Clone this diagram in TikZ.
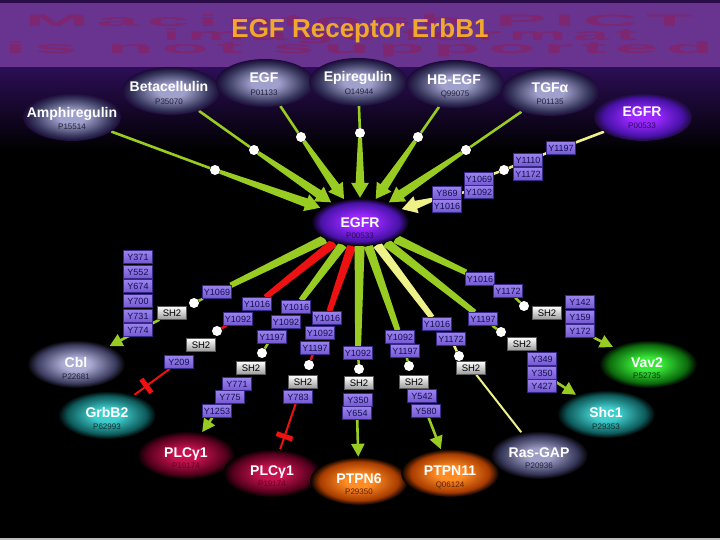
\documentclass[tikz,border=0pt]{standalone}
\usepackage{fontspec}
\setmainfont{Liberation Sans}
\usetikzlibrary{arrows.meta,shapes.geometric,calc}
\pgfdeclarelayer{back}\pgfdeclarelayer{mid}
\pgfsetlayers{back,mid,main}
\definecolor{cgreen}{HTML}{99CC22}
\definecolor{cred}{HTML}{EE1111}
\definecolor{cyel}{HTML}{EEF088}
\definecolor{bandcol}{HTML}{683490}
\definecolor{bandtop}{HTML}{2A0C48}
\definecolor{wmcol}{HTML}{7E2670}
\definecolor{titleor}{HTML}{F2A82C}
\definecolor{topbg}{HTML}{2C0E56}
\definecolor{ligbg}{HTML}{1C0A38}
\definecolor{botline}{HTML}{BDBDBD}
\definecolor{sitetext}{HTML}{12124E}
\definecolor{sitetop}{HTML}{9C84EE}
\definecolor{sitebot}{HTML}{7458D2}
\definecolor{siteedge}{HTML}{3A2888}
\definecolor{shbot}{HTML}{9A9A9A}
\definecolor{shedge}{HTML}{5A5A5A}
% glow colours
\definecolor{ligc}{HTML}{A0A0CC}\definecolor{lige}{HTML}{34345A}
\definecolor{egfc}{HTML}{9A28FF}\definecolor{egfe}{HTML}{4812A8}
\definecolor{cblc}{HTML}{ACACD4}\definecolor{cble}{HTML}{3C3C60}
\definecolor{tealc}{HTML}{40CCCC}\definecolor{teale}{HTML}{0E5A5A}
\definecolor{vavc}{HTML}{38E838}\definecolor{vave}{HTML}{0C6A0C}
\definecolor{plcc}{HTML}{C4124E}\definecolor{plce}{HTML}{56001E}
\definecolor{ptpc}{HTML}{FF8C24}\definecolor{ptpe}{HTML}{A83C00}
\definecolor{rasc}{HTML}{9C9CC4}\definecolor{rase}{HTML}{343456}
\definecolor{idgray}{HTML}{22223A}
\definecolor{idpur}{HTML}{2A0E5E}
\definecolor{idteal}{HTML}{0A3434}
\definecolor{idgreen}{HTML}{0A360A}
\definecolor{idred}{HTML}{6A0022}
\definecolor{idorange}{HTML}{602000}
\colorlet{gc}{white}\colorlet{ge}{gray}\colorlet{gb}{black}
\pgfdeclareradialshading[gc,ge,gb]{glow}{\pgfpointorigin}{color(0bp)=(gc); color(7bp)=(gc); color(20bp)=(ge); color(25bp)=(gb); color(50bp)=(gb)}
\tikzset{
  glowy/.style n args={3}{shape=ellipse, minimum width=98pt, minimum height=48pt, inner sep=0pt,
     /utils/exec={\colorlet{gc}{#1}\colorlet{ge}{#2}\colorlet{gb}{#3}}, shade, shading=glow},
  ptname/.style={font=\bfseries\fontsize{14}{14}\selectfont, text=white, anchor=base, inner sep=0pt},
  ptid/.style={font=\fontsize{8}{8}\selectfont, anchor=base, inner sep=0pt},
  site/.style={rectangle, minimum width=29pt, minimum height=13pt, inner sep=0pt,
     top color=sitetop, bottom color=sitebot, draw=siteedge, line width=.4pt,
     font=\fontsize{9}{9}\selectfont, text=sitetext},
  sh/.style={rectangle, minimum width=29pt, minimum height=13pt, inner sep=0pt,
     top color=white, bottom color=shbot, draw=shedge, line width=.4pt,
     font=\fontsize{9.5}{9.5}\selectfont, text=black},
  wdot/.style={circle, fill=white, minimum size=10pt, inner sep=0pt},
  thinl/.style={line width=2.6pt},
  headarr/.style={line width=3pt, -{Triangle[length=15pt,width=17pt]}},
  tick/.style={line width=2.5pt},
  tarr/.style={line width=2.6pt, -{Triangle[length=13pt,width=13pt]}},
  redbar/.style={rectangle, fill=cred, minimum width=5pt, minimum height=17pt, inner sep=0pt, sloped},
  wm/.style={font=\bfseries\addfontfeatures{LetterSpace=10}, text=wmcol, inner sep=0pt, anchor=base}
}
% tapered connector between two named nodes: colour, from, to, half width at start, half width at end
\newcommand\taperlink[5]{%
  \path (#2) -- (#3) coordinate[pos=0] (tp-s) coordinate[pos=1] (tp-e);
  \fill[#1] ($(tp-s)!#4!90:(tp-e)$) -- ($(tp-s)!#4!-90:(tp-e)$) -- ($(tp-e)!#5!90:(tp-s)$) -- ($(tp-e)!#5!-90:(tp-s)$) -- cycle;}
% tapered arrow: colour, from, to
\newcommand\taperarrow[3]{%
  \path (#2) -- (#3) coordinate[pos=0] (ta-s) coordinate[pos=1] (ta-e);
  \coordinate (ta-m) at ($(ta-e)!12pt!(ta-s)$);
  \fill[#1] ($(ta-s)!2pt!90:(ta-m)$) -- ($(ta-s)!2pt!-90:(ta-m)$) -- ($(ta-m)!4.5pt!90:(ta-s)$) -- ($(ta-m)!4.5pt!-90:(ta-s)$) -- cycle;
  \draw[#1, headarr] (#2) -- (#3);}
\begin{document}
\begin{tikzpicture}[x=1pt,y=-1pt]
\useasboundingbox (0,0) rectangle (720,540);
\begin{pgfonlayer}{back}
\fill[black] (0,0) rectangle (720,540);
\shade[top color=topbg, bottom color=black] (0,67) rectangle (720,150);
\fill[bandcol] (0,3) rectangle (720,67);
\fill[bandtop] (0,0) rectangle (720,3);
\fill[botline] (0,537.5) rectangle (720,540);
\end{pgfonlayer}
% watermark and title
\node[wm] (wm1) at (359,27) {\resizebox{668pt}{12pt}{Macintosh PICT}};
\node[wm] (wm2) at (400,41) {\resizebox{475pt}{12pt}{image format}};
\node[wm] (wm3) at (359,54) {\resizebox{708pt}{12pt}{is not supported}};
\node[font=\bfseries\fontsize{26}{26}\selectfont, text=titleor, anchor=base, inner sep=0pt] (title) at (360,37.5) {EGF Receptor ErbB1};

% ---------- proteins ----------
\node[glowy={ligc}{lige}{ligbg}] (amph) at (72,117) {};
\node[ptname] (amph-n) at (72,118) {Amphiregulin};
\node[ptid,text=idgray] (amph-i) at (72,130) {P15514};
\node[glowy={ligc}{lige}{ligbg}] (beta) at (171,91) {};
\node[ptname] (beta-n) at (169,92) {Betacellulin};
\node[ptid,text=idgray] (beta-i) at (169,105) {P35070};
\node[glowy={ligc}{lige}{ligbg}] (egf) at (265,83) {};
\node[ptname] (egf-n) at (264,83) {EGF};
\node[ptid,text=idgray] (egf-i) at (264,96) {P01133};
\node[glowy={ligc}{lige}{ligbg}] (epi) at (358,82) {};
\node[ptname] (epi-n) at (358,82) {Epiregulin};
\node[ptid,text=idgray] (epi-i) at (359,95) {O14944};
\node[glowy={ligc}{lige}{ligbg}] (hbegf) at (455,84) {};
\node[ptname] (hbegf-n) at (454,85) {HB-EGF};
\node[ptid,text=idgray] (hbegf-i) at (455,97) {Q99075};
\node[glowy={ligc}{lige}{ligbg}] (tgfa) at (550,92) {};
\node[ptname] (tgfa-n) at (550,93) {TGFα};
\node[ptid,text=idgray] (tgfa-i) at (550,105) {P01135};
\node[glowy={egfc}{egfe}{ligbg}] (egfr2) at (643,117) {};
\node[ptname] (egfr2-n) at (642,117) {EGFR};
\node[ptid,text=idpur] (egfr2-i) at (642,129) {P00533};
\node[glowy={egfc}{egfe}{black}] (egfr) at (360,222) {};
\node[ptname] (egfr-n) at (360,227) {EGFR};
\node[ptid,text=idpur] (egfr-i) at (360,239) {P00533};
\node[glowy={cblc}{cble}{black}] (cbl) at (76,364) {};
\node[ptname] (cbl-n) at (76,367) {Cbl};
\node[ptid,text=idgray] (cbl-i) at (76,379) {P22681};
\node[glowy={tealc}{teale}{black}] (grb) at (107,415) {};
\node[ptname] (grb-n) at (107,417) {GrbB2};
\node[ptid,text=idteal] (grb-i) at (107,429) {P62993};
\node[glowy={vavc}{vave}{black}] (vav) at (648,364) {};
\node[ptname] (vav-n) at (647,367) {Vav2};
\node[ptid,text=idgreen] (vav-i) at (647,378) {P52735};
\node[glowy={tealc}{teale}{black}] (shc) at (606,414) {};
\node[ptname] (shc-n) at (606,417) {Shc1};
\node[ptid,text=idteal] (shc-i) at (606,429) {P29353};
\node[glowy={plcc}{plce}{black}] (plc1) at (186,455) {};
\node[ptname] (plc1-n) at (186,457) {PLCγ1};
\node[ptid,text=idred] (plc1-i) at (186,468) {P19174};
\node[glowy={plcc}{plce}{black}] (plc2) at (272,473) {};
\node[ptname] (plc2-n) at (272,475) {PLCγ1};
\node[ptid,text=idred] (plc2-i) at (272,486) {P19174};
\node[glowy={ptpc}{ptpe}{black}] (ptpn6) at (359,481) {};
\node[ptname] (ptpn6-n) at (359,483) {PTPN6};
\node[ptid,text=idorange] (ptpn6-i) at (359,494) {P29350};
\node[glowy={ptpc}{ptpe}{black}] (ptpn11) at (450,473) {};
\node[ptname] (ptpn11-n) at (450,475) {PTPN11};
\node[ptid,text=idorange] (ptpn11-i) at (450,487) {Q06124};
\node[glowy={rasc}{rase}{black}] (ras) at (539,455) {};
\node[ptname] (ras-n) at (539,457) {Ras-GAP};
\node[ptid,text=idgray] (ras-i) at (539,468) {P20936};

% ---------- ligand dots ----------
\node[wdot] (d-amph) at (215,170) {};
\node[wdot] (d-beta) at (254,150) {};
\node[wdot] (d-egf) at (301,137) {};
\node[wdot] (d-epi) at (360,133) {};
\node[wdot] (d-hb) at (418,137) {};
\node[wdot] (d-tgf) at (466,150) {};

% ---------- top chain (EGFR autophosphorylation) ----------
\node[site] (t-1197) at (561,148) {Y1197};
\node[site] (t-1110) at (528,160) {Y1110};
\node[site] (t-1172) at (528,174) {Y1172};
\node[wdot] (t-dot) at (504,170) {};
\node[site] (t-1069) at (479,179) {Y1069};
\node[site] (t-1092) at (479,192) {Y1092};
\node[site] (t-869) at (447,193) {Y869};
\node[site] (t-1016) at (447,206) {Y1016};

% ---------- chain A: Cbl ----------
\node[site] (c-371) at (138,257) {Y371};
\node[site] (c-552) at (138,272) {Y552};
\node[site] (c-674) at (138,286) {Y674};
\node[site] (c-700) at (138,301) {Y700};
\node[site] (c-731) at (138,316) {Y731};
\node[site] (c-774) at (138,330) {Y774};
\node[site] (a-1069) at (217,292) {Y1069};
\node[wdot] (a-dot) at (194,303) {};
\node[sh] (a-sh) at (172,313) {SH2};

% ---------- chain B: GrbB2 (red) ----------
\node[site] (b-1016) at (257,304) {Y1016};
\node[site] (b-1092) at (238,319) {Y1092};
\node[wdot] (b-dot) at (217,331) {};
\node[sh] (b-sh) at (201,345) {SH2};
\node[site] (b-209) at (179,362) {Y209};

% ---------- chain C: PLCg1 ----------
\node[site] (cc-1016) at (296,307) {Y1016};
\node[site] (cc-1092) at (286,322) {Y1092};
\node[site] (cc-1197) at (272,337) {Y1197};
\node[wdot] (cc-dot) at (262,353) {};
\node[sh] (cc-sh) at (251,368) {SH2};
\node[site] (cc-771) at (237,384) {Y771};
\node[site] (cc-775) at (230,397) {Y775};
\node[site] (cc-1253) at (217,411) {Y1253};

% ---------- chain D: PLCg1 (red) ----------
\node[site] (d-1016) at (327,318) {Y1016};
\node[site] (d-1092) at (320,333) {Y1092};
\node[site] (d-1197) at (315,348) {Y1197};
\node[wdot] (d-dot) at (309,365) {};
\node[sh] (d-sh) at (303,382) {SH2};
\node[site] (d-783) at (298,397) {Y783};

% ---------- chain E: PTPN6 ----------
\node[site] (e-1092) at (358,353) {Y1092};
\node[wdot] (e-dot) at (359,369) {};
\node[sh] (e-sh) at (359,383) {SH2};
\node[site] (e-350) at (358,400) {Y350};
\node[site] (e-654) at (357,413) {Y654};

% ---------- chain F: PTPN11 ----------
\node[site] (f-1092) at (400,337) {Y1092};
\node[site] (f-1197) at (405,351) {Y1197};
\node[wdot] (f-dot) at (409,366) {};
\node[sh] (f-sh) at (414,382) {SH2};
\node[site] (f-542) at (422,396) {Y542};
\node[site] (f-580) at (426,411) {Y580};

% ---------- chain G: Ras-GAP (yellow) ----------
\node[site] (g-1016) at (437,324) {Y1016};
\node[site] (g-1172) at (451,339) {Y1172};
\node[wdot] (g-dot) at (459,356) {};
\node[sh] (g-sh) at (471,368) {SH2};

% ---------- chain H: Shc1 ----------
\node[site] (h-1197) at (483,319) {Y1197};
\node[wdot] (h-dot) at (501,332) {};
\node[sh] (h-sh) at (522,344) {SH2};
\node[site] (h-349) at (542,359) {Y349};
\node[site] (h-350) at (542,373) {Y350};
\node[site] (h-427) at (542,386) {Y427};

% ---------- chain I: Vav2 ----------
\node[site] (i-1016) at (480,279) {Y1016};
\node[site] (i-1172) at (508,291) {Y1172};
\node[wdot] (i-dot) at (524,306) {};
\node[sh] (i-sh) at (547,313) {SH2};
\node[site] (i-142) at (580,302) {Y142};
\node[site] (i-159) at (580,317) {Y159};
\node[site] (i-172) at (580,331) {Y172};

% ---------- connectors ----------
\begin{pgfonlayer}{mid}
% ligands
\foreach \l/\d in {amph/d-amph, beta/d-beta, egf/d-egf, epi/d-epi, hbegf/d-hb, tgfa/d-tgf}{
  \draw[cgreen, thinl] (\l) -- (\d);
  \taperarrow{cgreen}{\d}{egfr}
}
% top chain
\draw[cyel, thinl] (egfr2) -- (t-1197);
\draw[cyel, tick] (t-1197) -- (t-1110);
\draw[cyel, tick] (t-1110) -- (t-dot);
\draw[cyel, tick] (t-dot) -- (t-1069);
\draw[cyel, tick] (t-1092) -- (t-869);
\taperarrow{cyel}{t-869.south west}{egfr}
% stems from EGFR
\taperlink{cgreen}{egfr}{a-1069}{4.5pt}{2.8pt}
\taperlink{cred}{egfr}{b-1016}{4.5pt}{2.8pt}
\taperlink{cgreen}{egfr}{cc-1016}{4.5pt}{2.8pt}
\taperlink{cred}{egfr}{d-1016}{4.5pt}{2.8pt}
\taperlink{cgreen}{egfr}{e-1092}{5pt}{3pt}
\taperlink{cgreen}{egfr}{f-1092}{4.5pt}{2.8pt}
\taperlink{cyel}{egfr}{g-1016}{4.5pt}{2.8pt}
\taperlink{cgreen}{egfr}{h-1197}{4.5pt}{2.8pt}
\taperlink{cgreen}{egfr}{i-1016}{4.5pt}{2.8pt}
% site to dot
\draw[cgreen, tick] (a-1069) -- (a-dot);
\draw[cred, tick] (b-1092) -- (b-dot);
\draw[cgreen, tick] (cc-1197) -- (cc-dot);
\draw[cred, tick] (d-1197) -- (d-dot);
\draw[cgreen, tick] (e-1092) -- (e-dot);
\draw[cgreen, tick] (f-1197) -- (f-dot);
\draw[cyel, tick] (g-1172) -- (g-dot);
\draw[cgreen, tick] (h-1197) -- (h-dot);
\draw[cgreen, tick] (i-1172) -- (i-dot);
% effects
\draw[cgreen, tarr] (a-sh) -- (cbl);
\draw[cred, line width=2pt] (b-209) -- (grb) node[redbar, pos=0.66] (bar1) {};
\draw[cgreen, tarr] (cc-1253) -- (plc1);
\draw[cred, line width=2pt] (d-783) -- (plc2) node[redbar, pos=0.72] (bar2) {};
\draw[cgreen, tarr] (e-654) -- (ptpn6);
\draw[cgreen, tarr] (f-580) -- (ptpn11);
\draw[cyel, line width=2pt] (g-sh) -- (ras);
\draw[cgreen, tarr] (h-350) -- (shc);
\draw[cgreen, tarr] (i-172) -- (vav);
\end{pgfonlayer}
\end{tikzpicture}
\end{document}
